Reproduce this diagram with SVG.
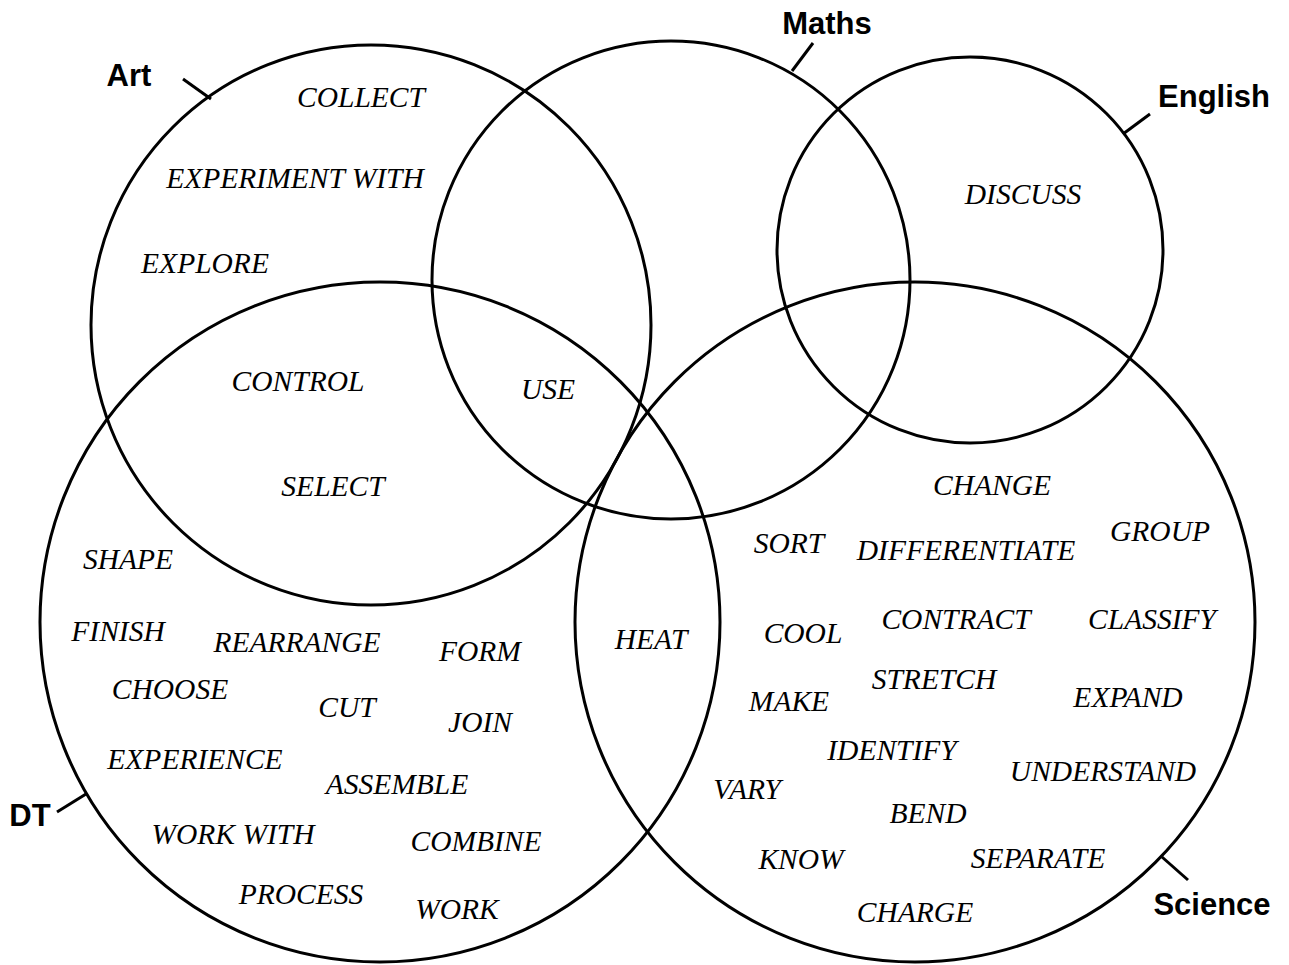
<svg xmlns="http://www.w3.org/2000/svg" width="1289" height="965" viewBox="0 0 1289 965">
<style>
.c{fill:none;stroke:#000;stroke-width:3}
.t{stroke:#000;stroke-width:3;fill:none}
.w{font-family:"Liberation Serif","Times New Roman",serif;font-style:italic;font-size:29.5px;fill:#000;text-anchor:middle}
.l{font-family:"Liberation Sans",Arial,sans-serif;font-weight:bold;font-size:31px;fill:#000;text-anchor:middle}
</style>
<rect width="1289" height="965" fill="#fff"/>
<g id="art">
<circle class="c" cx="371" cy="325" r="280"/>
<text class="l" x="129" y="86">Art</text>
</g>
<g id="maths">
<circle class="c" cx="671" cy="280" r="239"/>
<text class="l" x="827" y="34">Maths</text>
</g>
<g id="english">
<circle class="c" cx="970" cy="250" r="193"/>
<text class="l" x="1214" y="107">English</text>
</g>
<g id="dt">
<circle class="c" cx="380" cy="622" r="340"/>
<text class="l" x="30" y="826">DT</text>
</g>
<g id="science">
<circle class="c" cx="915" cy="622" r="340"/>
<text class="l" x="1212" y="915">Science</text>
</g>
<g id="connectors">
<line class="t" x1="183" y1="79" x2="211" y2="99"/>
<line class="t" x1="813" y1="43" x2="792" y2="71"/>
<line class="t" x1="1150" y1="114" x2="1123" y2="134"/>
<line class="t" x1="57" y1="812" x2="86" y2="794"/>
<line class="t" x1="1162" y1="857" x2="1188" y2="880"/>
</g>
<g id="words">
<text class="w" x="361" y="107">COLLECT</text>
<text class="w" x="295" y="188">EXPERIMENT WITH</text>
<text class="w" x="205" y="273">EXPLORE</text>
<text class="w" x="298" y="391">CONTROL</text>
<text class="w" x="548" y="399">USE</text>
<text class="w" x="333" y="496">SELECT</text>
<text class="w" x="1023" y="204">DISCUSS</text>
<text class="w" x="992" y="495">CHANGE</text>
<text class="w" x="789" y="553">SORT</text>
<text class="w" x="966" y="560">DIFFERENTIATE</text>
<text class="w" x="1160" y="541">GROUP</text>
<text class="w" x="128" y="569">SHAPE</text>
<text class="w" x="118" y="641">FINISH</text>
<text class="w" x="297" y="652">REARRANGE</text>
<text class="w" x="480" y="661">FORM</text>
<text class="w" x="651" y="649">HEAT</text>
<text class="w" x="803" y="643">COOL</text>
<text class="w" x="956" y="629">CONTRACT</text>
<text class="w" x="1152" y="629">CLASSIFY</text>
<text class="w" x="170" y="699">CHOOSE</text>
<text class="w" x="347" y="717">CUT</text>
<text class="w" x="480" y="732">JOIN</text>
<text class="w" x="934" y="689">STRETCH</text>
<text class="w" x="789" y="711">MAKE</text>
<text class="w" x="1128" y="707">EXPAND</text>
<text class="w" x="195" y="769">EXPERIENCE</text>
<text class="w" x="397" y="794">ASSEMBLE</text>
<text class="w" x="892" y="760">IDENTIFY</text>
<text class="w" x="1103" y="781">UNDERSTAND</text>
<text class="w" x="747" y="799">VARY</text>
<text class="w" x="928" y="823">BEND</text>
<text class="w" x="233" y="844">WORK WITH</text>
<text class="w" x="476" y="851">COMBINE</text>
<text class="w" x="801" y="869">KNOW</text>
<text class="w" x="1038" y="868">SEPARATE</text>
<text class="w" x="301" y="904">PROCESS</text>
<text class="w" x="457" y="919">WORK</text>
<text class="w" x="915" y="922">CHARGE</text>
</g>
</svg>
